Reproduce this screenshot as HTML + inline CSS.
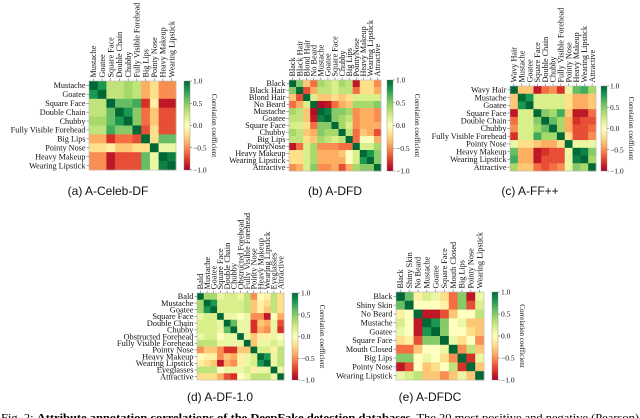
<!DOCTYPE html>
<html><head><meta charset="utf-8">
<style>
html,body{margin:0;padding:0;background:#fff;overflow:hidden}
svg{display:block}
</style></head>
<body>
<svg id="fig" width="640" height="418" viewBox="0 0 640 418" xmlns="http://www.w3.org/2000/svg">
<defs>
<linearGradient id="cmap" x1="0" y1="1" x2="0" y2="0">
<stop offset="0" stop-color="#a50026"/><stop offset="0.1" stop-color="#d73027"/><stop offset="0.2" stop-color="#f46d43"/><stop offset="0.3" stop-color="#fdae61"/><stop offset="0.4" stop-color="#fee08b"/><stop offset="0.5" stop-color="#ffffbf"/><stop offset="0.6" stop-color="#d9ef8b"/><stop offset="0.7" stop-color="#a6d96a"/><stop offset="0.8" stop-color="#66bd63"/><stop offset="0.9" stop-color="#1a9850"/><stop offset="1" stop-color="#006837"/>
</linearGradient>
</defs>
<text x="1" y="421" font-family="Liberation Serif, serif" font-size="10.5" textLength="638" lengthAdjust="spacingAndGlyphs">Fig. 2: <tspan font-weight="bold">Attribute annotation correlations of the DeepFake detection databases.</tspan> The 20 most positive and negative (Pearson)</text>
</svg>
<script>
const labelsA = ["Mustache","Goatee","Square Face","Double Chain","Chubby","Fully Visible Forehead","Big Lips","Pointy Nose","Heavy Makeup","Wearing Lipstick"];
const matA = [
[1,.8,.3,.3,.4,.3,-.4,-.2,-.5,-.5],
[.8,1,.3,.3,.4,.3,-.4,-.2,-.5,-.5],
[.3,.3,1,.6,.6,.7,-.8,-.1,-.9,-.9],
[.3,.3,.6,1,.8,.5,-.6,-.3,-.7,-.7],
[.4,.4,.6,.8,1,.5,-.6,-.3,-.7,-.7],
[.3,.3,.7,.5,.5,1,-.7,-.2,-.7,-.7],
[-.4,-.4,-.8,-.6,-.6,-.7,1,-.2,.6,.6],
[-.2,-.2,-.1,-.3,-.3,-.2,-.2,1,.1,.1],
[-.5,-.5,-.9,-.7,-.7,-.7,.6,.1,1,.9],
[-.5,-.5,-.9,-.7,-.7,-.7,.6,.1,.9,1]];
const labelsB = ["Black","Black Hair","Blond Hair","No Beard","Mustache","Goatee","Square Face","Chubby","Big Lips","PointyNose","Heavy Makeup","Wearing Lipstick","Attractive"];
const matB = [
[1,.5,-.3,-.6,.4,.3,.2,.4,.3,-.9,-.2,-.2,-.5],
[.5,1,-.7,-.4,.3,.3,.2,.3,.3,-.6,-.2,-.2,-.4],
[-.3,-.7,1,.2,-.3,-.3,-.2,-.3,-.2,.2,.2,.2,.2],
[-.6,-.4,.2,1,-.95,-.9,-.6,-.4,-.3,.4,.4,.4,.5],
[.4,.3,-.3,-.95,1,.9,.5,.5,.4,-.5,-.4,-.4,-.5],
[.3,.3,-.3,-.9,.9,1,.5,.4,.3,-.5,-.4,-.4,-.5],
[.2,.2,-.2,-.6,.5,.5,1,.4,.2,-.5,-.4,-.4,-.4],
[.4,.3,-.3,-.4,.5,.4,.4,1,.3,-.6,-.3,-.4,-.7],
[.3,.3,-.2,-.3,.4,.3,.2,.3,1,-.6,0,0,-.4],
[-.9,-.6,.2,.4,-.5,-.5,-.5,-.6,-.6,1,.2,.2,.4],
[-.2,-.2,.2,.4,-.4,-.4,-.4,-.3,0,.2,1,.8,.5],
[-.2,-.2,.2,.4,-.4,-.4,-.4,-.4,0,.2,.8,1,.5],
[-.5,-.4,.2,.5,-.5,-.5,-.4,-.7,-.4,.4,.5,.5,1]];
const labelsC = ["Wavy Hair","Mustache","Goatee","Square Face","Double Chain","Chubby","Fully Visible Forehead","Pointy Nose","Heavy Makeup","Wearing Lipstick","Attractive"];
const matC = [
[1,-.3,-.3,-.9,-.6,-.5,-.8,.1,.6,.7,.4],
[-.3,1,.8,.2,.2,.2,.2,-.2,-.4,-.4,-.3],
[-.3,.8,1,.2,.2,.2,.2,-.2,-.4,-.4,-.3],
[-.9,.2,.2,1,.5,.4,.7,-.3,-.9,-.9,-.6],
[-.6,.2,.2,.5,1,.6,.4,-.4,-.8,-.7,-.7],
[-.5,.2,.2,.4,.6,1,.4,-.4,-.7,-.7,-.6],
[-.8,.2,.2,.7,.4,.4,1,-.2,-.7,-.7,-.5],
[.1,-.2,-.2,-.3,-.4,-.4,-.2,1,.1,.1,.1],
[.6,-.4,-.4,-.9,-.8,-.7,-.7,.1,1,.9,.5],
[.7,-.4,-.4,-.9,-.7,-.7,-.7,.1,.9,1,.4],
[.4,-.3,-.3,-.6,-.7,-.6,-.5,.1,.5,.4,1]];
const labelsD = ["Bald","Mustache","Goatee","Square Face","Double Chain","Chubby","Obstructed Forehead","Fully Visible Forehead","Pointy Nose","Heavy Makeup","Wearing Lipstick","Eyeglasses","Attractive"];
const matD = [
[1,.4,.4,.1,.2,.2,.1,.3,-.5,0,-.1,.3,-.2],
[.4,1,.8,.2,.2,.2,.2,.3,-.3,-.1,-.2,.3,-.2],
[.4,.8,1,.2,.2,.2,.2,.3,-.3,-.1,-.3,.3,-.2],
[.1,.2,.2,1,.1,.1,0,.1,-.5,-.5,-.9,0,-.4],
[.2,.2,.2,.1,1,.6,.1,.1,-.8,-.3,-.4,.1,-.7],
[.2,.2,.2,.1,.6,1,.1,.1,-.8,-.4,-.5,.1,-.8],
[.1,.2,.2,0,.1,.1,1,.1,-.3,-.1,-.1,.1,0],
[.3,.3,.3,.1,.1,.1,.1,1,-.3,.1,.1,.2,.1],
[-.5,-.3,-.3,-.5,-.8,-.8,-.3,-.3,1,.2,.2,-.1,.3],
[0,-.1,-.1,-.5,-.3,-.4,-.1,.1,.2,1,.8,.1,.3],
[-.1,-.2,-.3,-.9,-.4,-.5,-.1,.1,.2,.8,1,.1,.3],
[.3,.3,.3,0,.1,.1,.1,.2,-.1,.1,.1,1,.1],
[-.2,-.2,-.2,-.4,-.7,-.8,0,.1,.3,.3,.3,.1,1]];
const labelsE = ["Black","Shiny Skin","No Beard","Mustache","Goatee","Square Face","Mouth Closed","Big Lips","Pointy Nose","Wearing Lipstick"];
const matE = [
[1,.6,-.1,.2,.1,-.2,-.6,.5,-.9,.1],
[.6,1,0,0,0,-.1,-.6,.5,-.7,.2],
[-.1,0,1,-.9,-.9,-.7,-.3,0,0,.3],
[.2,0,-.9,1,.8,.5,0,.1,-.3,-.3],
[.1,0,-.9,.8,1,.5,0,0,-.2,-.3],
[-.2,-.1,-.7,.5,.5,1,.1,-.2,0,-.5],
[-.6,-.6,-.3,0,0,.1,1,-.5,.3,-.3],
[.5,.5,0,.1,0,-.2,-.5,1,-.8,.1],
[-.9,-.7,0,-.3,-.2,0,.3,-.8,1,-.3],
[.1,.2,.3,-.3,-.3,-.5,-.3,.1,-.3,1]];
const cbTicks = ["1.0","0.5","0.0","\u22120.5","\u22121.0"];
const cbTickValues = [1,0.5,0,-0.5,-1];

const NS="http://www.w3.org/2000/svg";
const svg=document.getElementById('fig');
const stops=[[165,0,38],[215,48,39],[244,109,67],[253,174,97],[254,224,139],[255,255,191],[217,239,139],[166,217,106],[102,189,99],[26,152,80],[0,104,55]];
function cmap(v){let t=(Math.max(-1,Math.min(1,v))+1)/2*10;let i=Math.min(9,Math.floor(t)),f=t-i;const a=stops[i],b=stops[i+1];return 'rgb('+a.map((c,k)=>Math.round(c+(b[k]-c)*f)).join(',')+')';}
function mk(tag,attrs,parent){const e=document.createElementNS(NS,tag);for(const k in attrs)e.setAttribute(k,attrs[k]);(parent||svg).appendChild(e);return e;}

function panel(id,labels,mat,x0,y0,x1,y1,cbx,caption,capx,capy,fs){
  const g=mk('g',{});
  
  
  const n=labels.length, cw=(x1-x0)/n, ch=(y1-y0)/n;
  const xs=j=>x0+j*cw, ys=i=>y0+i*ch;
  for(let i=0;i<n;i++)for(let j=0;j<n;j++){
    const r=mk('rect',{x:xs(j),y:ys(i),width:cw+0.3,height:ch+0.3,fill:cmap(mat[i][j])},g);
    
    
  }
  mk('rect',{x:x0,y:y0,width:x1-x0,height:y1-y0,fill:'none',stroke:'#bbb','stroke-width':0.6},g);
  for(let i=0;i<n;i++){
    const cy=ys(i)+ch/2, cx=xs(i)+cw/2;
    mk('line',{x1:x0-2.5,x2:x0,y1:cy,y2:cy,stroke:'#555','stroke-width':0.5},g);
    const t=mk('text',{x:x0-3.5,y:cy+fs*0.33,'text-anchor':'end','font-family':'Liberation Serif, serif','font-size':fs,fill:'#111'},g);
    t.textContent=labels[i];
    
    
    mk('line',{x1:cx,x2:cx,y1:y0-2.5,y2:y0,stroke:'#555','stroke-width':0.5},g);
    const c=mk('text',{x:0,y:0,'font-family':'Liberation Serif, serif','font-size':fs,fill:'#111',transform:'translate('+(cx+fs*0.33)+','+(y0-3.5)+') rotate(-90)'},g);
    c.textContent=labels[i];
    
    
  }
  const cb=mk('rect',{x:cbx,y:y0,width:6,height:y1-y0,fill:'url(#cmap)',stroke:'#888','stroke-width':0.4},g);
  
  
  cbTickValues.forEach((v,k)=>{
    const ty=y0+(1-v)/2*(y1-y0);
    mk('line',{x1:cbx+6,x2:cbx+8,y1:ty,y2:ty,stroke:'#555','stroke-width':0.5},g);
    const t=mk('text',{x:cbx+9,y:ty+2.5,'font-family':'Liberation Serif, serif','font-size':7.5,fill:'#111'},g);
    t.textContent=cbTicks[k];
    
    
  });
  const lab=mk('text',{x:0,y:0,'text-anchor':'middle','font-family':'Liberation Serif, serif','font-size':7,fill:'#111',transform:'translate('+(cbx+28)+','+((y0+y1)/2)+') rotate(90)'},g);
  lab.textContent='Correlation coefficient';
  
  
  const cap=mk('text',{x:capx,y:capy,'text-anchor':'middle','font-family':'Liberation Sans, sans-serif','font-size':12,fill:'#111'},g);
  cap.textContent=caption;
  
  
}
panel('a',labelsA,matA,89,81,176,170,184,'(a) A-Celeb-DF',108,195,8.2);
panel('b',labelsB,matB,289,80,381,171,387,'(b) A-DFD',335,195,8.2);
panel('c',labelsC,matC,510,86,596,171,601,'(c) A-FF++',530,195,8.2);
panel('d',labelsD,matD,197,293,284,380,292,'(d) A-DF-1.0',220,401,8.4);
panel('e',labelsE,matE,396,292,484,380,492,'(e) A-DFDC',430,401,8.2);
</script>
</body></html>
